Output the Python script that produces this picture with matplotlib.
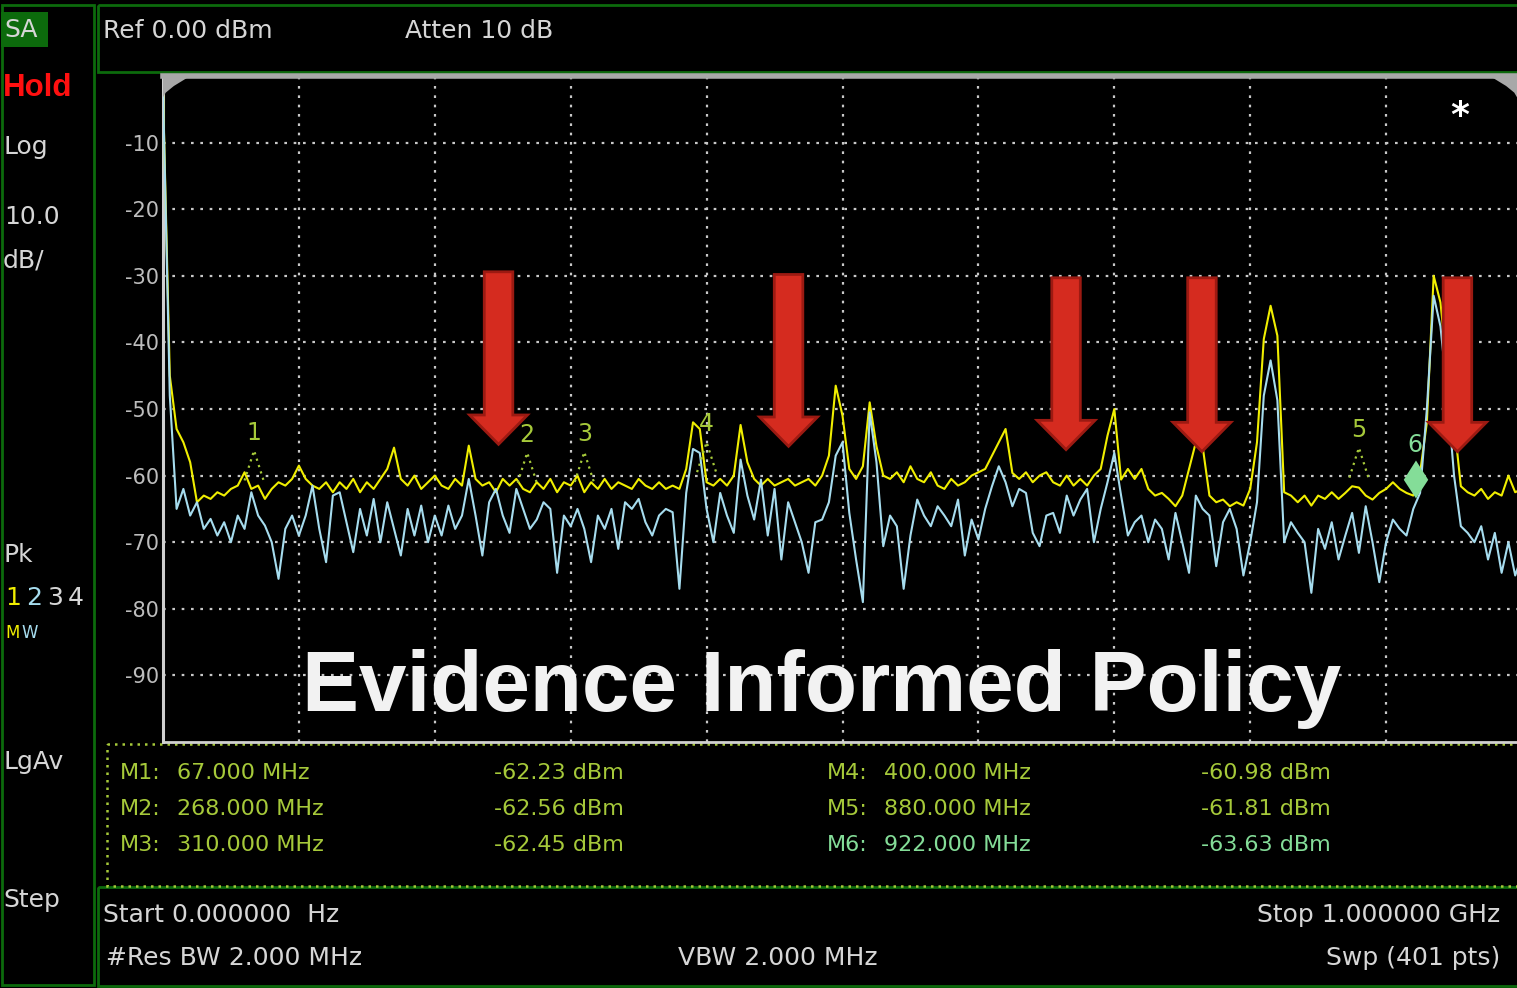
import numpy as np
import matplotlib
matplotlib.use("Agg")
import matplotlib.pyplot as plt
from matplotlib.patches import Rectangle, Polygon

# ---- sweep settings ----
freq_start = 0.0      # MHz
freq_stop = 1000.0    # MHz
n_points = 201
freqs = np.linspace(freq_start, freq_stop, n_points)

# trace 1 (yellow, max hold), dBm, one value per 5 MHz
max_hold = [
    -2.0, -45.0, -53.0, -55.0, -58.0, -64.0, -63.0, -63.5, -62.5, -63.0,
    -62.0, -61.5, -59.5, -62.0, -61.5, -63.5, -62.0, -61.0, -61.5, -60.5,
    -58.5, -60.5, -61.5, -62.0, -61.0, -62.5, -61.0, -62.0, -60.5, -62.5,
    -61.0, -62.0, -60.5, -59.0, -55.8, -60.5, -61.5, -60.0, -62.0, -61.0,
    -60.0, -61.5, -62.0, -60.5, -61.5, -55.5, -60.5, -61.5, -61.0, -62.5,
    -60.5, -61.5, -60.5, -62.0, -62.5, -61.0, -62.0, -60.5, -62.5, -61.0,
    -61.5, -60.0, -62.5, -61.0, -62.0, -60.5, -62.0, -61.0, -61.5, -62.0,
    -60.5, -61.5, -62.0, -61.0, -62.0, -61.5, -62.0, -59.0, -52.0, -53.0,
    -61.0, -61.5, -60.5, -61.5, -60.0, -52.4, -58.0, -60.5, -61.5, -60.5,
    -61.5, -61.0, -60.5, -61.5, -61.0, -60.5, -61.5, -60.0, -57.0, -46.5,
    -51.0, -59.0, -60.5, -58.6, -49.0, -55.6, -60.0, -60.5, -59.5, -61.0,
    -58.6, -60.5, -61.0, -59.5, -61.5, -62.0, -60.5, -61.5, -61.0, -60.0,
    -59.5, -59.0, -57.0, -55.0, -53.0, -59.6, -60.5, -59.5, -61.0, -60.0,
    -59.5, -61.0, -61.5, -60.0, -61.5, -60.5, -61.5, -60.0, -59.0, -54.0,
    -50.0, -60.6, -59.0, -60.5, -59.0, -62.0, -63.0, -62.6, -63.5, -64.6,
    -63.0, -59.0, -55.0, -55.6, -63.0, -64.0, -63.6, -64.6, -64.0, -64.5,
    -62.0, -55.0, -39.5, -34.5, -39.0, -62.5, -63.0, -64.0, -63.0, -64.5,
    -63.0, -63.5, -62.5, -63.5, -62.6, -61.6, -61.8, -63.0, -63.6, -62.6,
    -62.0, -61.0, -62.0, -62.6, -63.0, -59.6, -52.0, -30.0, -34.0, -44.0,
    -52.0, -61.6, -62.5, -63.0, -62.0, -63.5, -62.5, -63.0, -60.0, -62.5,
    -62.0,
]

# trace 2 (light blue, clear write), dBm, one value per 5 MHz
clear_write = [
    -2.0, -48.0, -65.0, -62.0, -66.0, -64.0, -68.0, -66.5, -69.0, -67.0,
    -70.0, -66.0, -68.0, -62.5, -66.0, -67.5, -70.0, -75.5, -68.0, -66.0,
    -69.0, -66.0, -61.5, -68.0, -73.0, -63.0, -62.5, -67.0, -71.5, -65.0,
    -69.0, -63.5, -70.0, -64.0, -68.0, -72.0, -65.0, -69.0, -64.5, -70.0,
    -66.0, -69.0, -64.5, -68.0, -66.0, -60.5, -66.0, -72.0, -64.0, -62.0,
    -66.0, -68.6, -62.0, -65.0, -68.0, -66.6, -64.0, -65.0, -74.6, -66.0,
    -67.6, -65.0, -68.0, -73.0, -66.0, -68.0, -65.0, -71.0, -64.0, -65.0,
    -63.5, -67.0, -69.0, -66.0, -65.0, -65.5, -77.0, -62.6, -56.0, -56.6,
    -65.0, -70.0, -62.6, -66.0, -68.6, -57.6, -63.0, -66.6, -60.6, -69.0,
    -62.0, -72.6, -64.0, -67.0, -70.0, -74.6, -67.0, -66.6, -64.0, -57.0,
    -55.0, -65.6, -72.6, -79.0, -50.5, -58.0, -70.6, -66.0, -67.6, -77.0,
    -69.0, -63.6, -66.0, -67.6, -64.6, -66.0, -67.6, -63.6, -72.0, -66.6,
    -69.6, -65.0, -61.6, -58.6, -61.0, -64.6, -62.0, -62.6, -68.6, -70.6,
    -66.0, -65.6, -68.6, -63.0, -66.0, -63.6, -62.0, -70.0, -65.0, -61.0,
    -56.6, -63.0, -69.0, -67.0, -66.0, -70.0, -66.6, -68.0, -72.6, -65.6,
    -70.0, -74.6, -63.0, -65.0, -66.0, -73.6, -67.0, -65.0, -68.0, -75.0,
    -70.0, -64.0, -48.0, -42.7, -48.7, -70.0, -67.0, -68.6, -70.0, -77.6,
    -68.0, -71.0, -67.0, -72.6, -69.0, -65.6, -71.6, -64.6, -70.0, -76.0,
    -70.0, -66.6, -68.0, -69.0, -65.0, -62.6, -50.0, -33.0, -37.6, -47.6,
    -60.0, -67.6, -68.6, -70.0, -67.6, -72.6, -68.6, -74.6, -70.0, -75.0,
    -72.0,
]

# markers
marker_names = ["M1", "M2", "M3", "M4", "M5", "M6"]
marker_freqs = [67.0, 268.0, 310.0, 400.0, 880.0, 922.0]
marker_levels = [-62.23, -62.56, -62.45, -60.98, -61.81, -63.63]

# red call-out arrows: centre freq, top level, tip level
arrow_freqs = [246.9, 460.3, 664.5, 764.5, 952.5]
arrow_tops = [-29.4, -29.8, -30.3, -30.3, -30.3]
arrow_tips = [-55.3, -55.6, -56.1, -56.4, -56.4]

ref_levels = [-10, -20, -30, -40, -50, -60, -70, -80, -90]
grid_freqs = [100, 200, 300, 400, 500, 600, 700, 800, 900]

W, H = 1517, 988
YELLOW = "#f0ee00"
BLUE = "#a6dcee"
GREY = "#d6d6d6"
MK_GREEN = "#a6c93a"
MK_LIGHT = "#84dd98"
BOX_GREEN = "#0c6a0c"

fig = plt.figure(figsize=(W / 100, H / 100), dpi=100, facecolor="black")

# background layer in pixel coordinates
bg = fig.add_axes([0, 0, 1, 1], zorder=0)
bg.set_xlim(0, W)
bg.set_ylim(H, 0)
bg.axis("off")
bg.set_facecolor("black")

# panel borders
bg.add_patch(Rectangle((2, 5), 92, 980, fill=False, ec=BOX_GREEN, lw=2))
bg.add_patch(Rectangle((98, 5), W - 98 + 5, 67, fill=False, ec=BOX_GREEN, lw=2))
bg.add_patch(Rectangle((98, 887), W - 98 + 5, 99, fill=False, ec=BOX_GREEN, lw=2))
bg.add_patch(Rectangle((107, 744), W - 107 + 5, 142, fill=False, ec=MK_GREEN,
                       lw=1.8, ls=(0, (1, 2))))

# left status column
bg.add_patch(Rectangle((1, 12), 47, 35, fc=BOX_GREEN, ec="none"))
txt = dict(color=GREY, fontsize=18, va="center", ha="left")
bg.text(4, 30, "SA", **txt)
bg.text(3, 88, "Hold", color="#ff1010", fontsize=22.5, fontweight="bold",
        family="Liberation Sans", va="center", ha="left")
bg.text(3, 147, "Log", **txt)
bg.text(4, 217, "10.0", **txt)
bg.text(3, 260, "dB/", **txt)
bg.text(3, 555, "Pk", **txt)
for i, (d, c) in enumerate(zip("1234", [YELLOW, BLUE, GREY, GREY])):
    bg.text(5 + i * 21, 598, d, color=c, fontsize=18, va="center", ha="left")
bg.text(5, 633, "M", color=YELLOW, fontsize=12, va="center", ha="left")
bg.text(21, 633, "W", color=BLUE, fontsize=12, va="center", ha="left")
bg.text(3, 762, "LgAv", **txt)
bg.text(3, 900, "Step", **txt)

# header and footer
bg.text(103, 31, "Ref 0.00 dBm", **txt)
bg.text(405, 31, "Atten 10 dB", **txt)
bg.text(103, 915, "Start 0.000000  Hz", **txt)
bg.text(1500, 915, "Stop 1.000000 GHz", color=GREY, fontsize=18, va="center", ha="right")
bg.text(106, 958, "#Res BW 2.000 MHz", **txt)
bg.text(678, 958, "VBW 2.000 MHz", **txt)
bg.text(1500, 958, "Swp (401 pts)", color=GREY, fontsize=18, va="center", ha="right")

# marker table
row_y = [773, 809, 845]
for i, (name, f, lv) in enumerate(zip(marker_names, marker_freqs, marker_levels)):
    col = 0 if i < 3 else 1
    y = row_y[i % 3]
    c = MK_LIGHT if name == "M6" else MK_GREEN
    x0 = [120, 827][col]
    bg.text(x0, y, name + ":", color=c, fontsize=16, va="center")
    bg.text(x0 + 57, y, f"{f:.3f} MHz", color=c, fontsize=16, va="center")
    bg.text(x0 + 374, y, f"{lv:.2f} dBm", color=c, fontsize=16, va="center")

# ---- main trace display ----
px_per_mhz = 1.359
left, top, bottom = 163, 76, 742
ax = fig.add_axes([left / W, (H - bottom) / H, (W - left) / W, (bottom - top) / H],
                  zorder=1)
ax.set_facecolor("black")
ax.set_xlim(0, (W - left) / px_per_mhz)
ax.set_ylim(-100, 0)

for f in grid_freqs:
    ax.axvline(f, color="#c8c8c8", lw=1.6, ls=(0, (1.2, 3)), zorder=1)
for lv in ref_levels:
    ax.axhline(lv, color="#c8c8c8", lw=1.6, ls=(0, (1.2, 3)), zorder=1)

ax.set_xticks([])
ax.set_yticks(ref_levels)
ax.set_yticklabels([str(v) for v in ref_levels])
ax.tick_params(axis="y", colors="#bdbdbd", labelsize=15, length=0, pad=3)
ax.spines["right"].set_visible(False)
ax.spines["left"].set_color("#d0d0d0")
ax.spines["left"].set_linewidth(2.2)
ax.spines["bottom"].set_color("#d0d0d0")
ax.spines["bottom"].set_linewidth(2)
ax.spines["top"].set_color("#a8a8a8")
ax.spines["top"].set_linewidth(4)

# rounded grey corners at the top of the display
ax.add_patch(Polygon([(0, 0), (20, 0), (8, -1.5), (2, -2.5), (0, -3.2)],
                     closed=True, fc="#a8a8a8", ec="none", clip_on=False, zorder=6))
xr = (W - left) / px_per_mhz
ax.add_patch(Polygon([(xr, 0), (xr - 20, 0), (xr - 8, -1.5), (xr - 2, -2.5), (xr, -3.2)],
                     closed=True, fc="#a8a8a8", ec="none", clip_on=False, zorder=6))

ax.plot(freqs, max_hold, color=YELLOW, lw=1.5, zorder=3)
ax.plot(freqs, clear_write, color=BLUE, lw=1.5, zorder=4)

# marker symbols
for name, f, lv in zip(marker_names, marker_freqs, marker_levels):
    num = name[1:]
    if name == "M6":
        ax.add_patch(Polygon([(f, lv + 0.2), (f + 9, lv + 3.0), (f, lv + 5.9), (f - 9, lv + 3.0)],
                             closed=True, fc=MK_LIGHT, ec="none", zorder=5))
        ax.text(f - 1, lv + 8.2, num, color=MK_LIGHT, fontsize=17, ha="center", va="center", zorder=5)
    else:
        ax.plot([f - 7, f, f + 7], [lv + 1.5, lv + 6.0, lv + 1.5], color=MK_GREEN,
                lw=1.6, ls=(0, (1, 2)), zorder=5)
        ax.text(f, lv + 8.7, num, color=MK_GREEN, fontsize=17, ha="center", va="center", zorder=5)

ax.text(0.958, 0.94, "*", transform=ax.transAxes, color="white", fontsize=26,
        fontweight="bold", ha="center", va="center")

# red arrows
shaft_half, head_half, head_len = 10.5, 21.3, 4.4
for f, t0, t1 in zip(arrow_freqs, arrow_tops, arrow_tips):
    pts = [(f - shaft_half, t0), (f + shaft_half, t0), (f + shaft_half, t1 + head_len),
           (f + head_half, t1 + head_len), (f, t1), (f - head_half, t1 + head_len),
           (f - shaft_half, t1 + head_len)]
    ax.add_patch(Polygon(pts, closed=True, fc="#d52b1f", ec="#9c1a12", lw=2, zorder=7))

# overlay title
fg = fig.add_axes([0, 0, 1, 1], zorder=2)
fg.set_xlim(0, W)
fg.set_ylim(H, 0)
fg.axis("off")
fg.patch.set_alpha(0)
fg.text(822, 711, "Evidence Informed Policy", color="#f2f2f2", fontsize=61.5,
        fontweight="bold", family="Liberation Sans", ha="center", va="baseline")

fig.savefig("out.png", dpi=100, facecolor="black")
